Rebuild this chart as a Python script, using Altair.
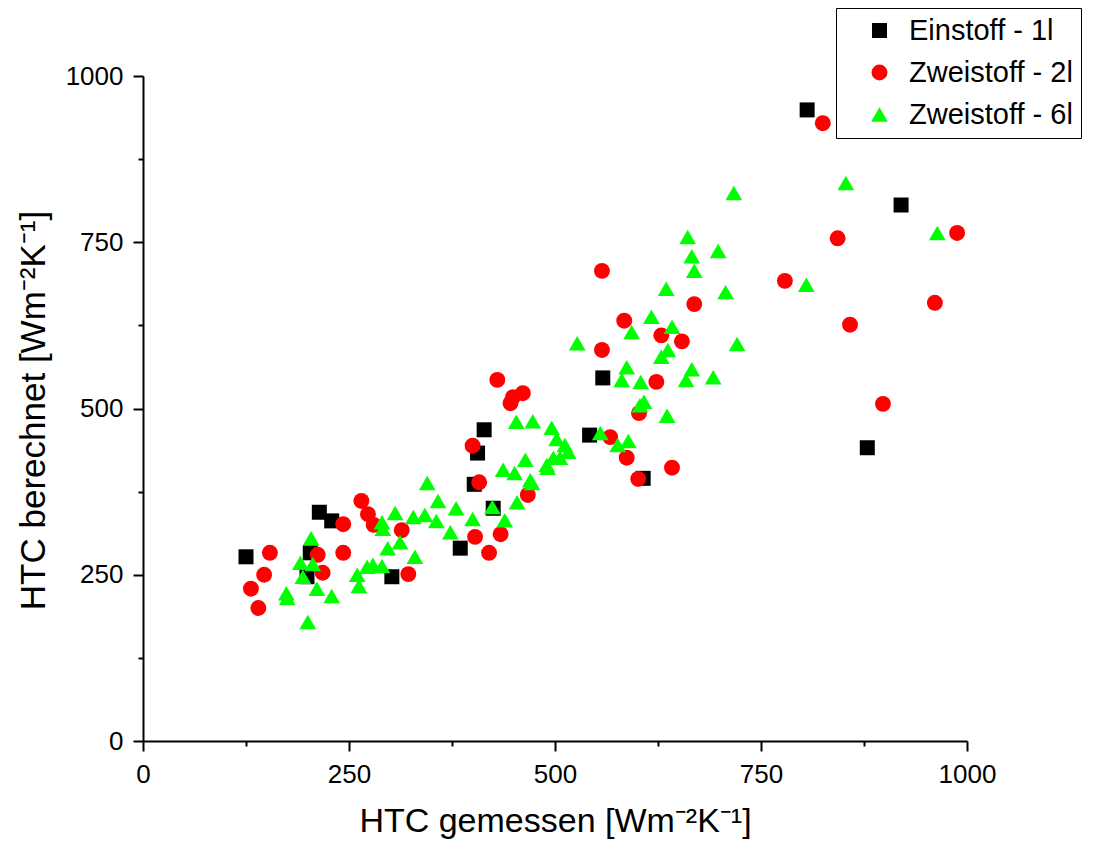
import altair as alt
import pandas as pd

series = ["Einstoff - 1l", "Zweistoff - 2l", "Zweistoff - 6l"]

# Einstoff - 1l (black squares)
sq_x = [125, 214, 229, 203, 199, 302, 385, 414, 406, 402, 425, 558, 542, 607, 806, 920, 879]
sq_y = [277, 344, 331, 283, 247, 247, 290, 468, 433, 386, 350, 546, 460, 395, 949, 806, 441]

# Zweistoff - 2l (red circles)
ci_x = [154, 147, 131, 140, 212, 218, 243, 243, 265, 273, 280, 314, 322, 403, 430, 449, 461, 446,
        400, 408, 467, 434, 420, 557, 669, 584, 629, 654, 557, 623, 602, 567, 587, 642, 601,
        825, 843, 988, 779, 961, 858, 898]
ci_y = [283, 250, 229, 200, 280, 253, 326, 283, 361, 341, 325, 317, 251, 307, 543, 517, 523, 508,
        444, 389, 370, 311, 283, 707, 657, 632, 610, 601, 588, 540, 493, 457, 426, 411, 394,
        929, 756, 764, 692, 659, 626, 507]

# Zweistoff - 6l (green triangles)
tr_x = [345, 358, 380, 306, 328, 342, 356, 290, 291, 400, 373, 204, 312, 297, 330, 191, 206, 194,
        260, 272, 279, 290, 262, 211, 229, 174, 175, 200,
        453, 473, 496, 502, 512, 516, 498, 490, 464, 437, 451, 470, 454, 439, 424, 506, 491, 472,
        661, 666, 698, 669, 635, 707, 617, 642, 593, 527, 721, 637, 629, 587, 666, 581, 604, 659,
        692, 608, 603, 636, 555, 576, 589,
        853, 964, 805, 717]
tr_y = [388, 361, 350, 343, 337, 340, 331, 329, 319, 334, 314, 305, 299, 290, 277, 268, 266, 247,
        250, 262, 265, 263, 233, 229, 218, 222, 215, 179,
        480, 481, 471, 454, 445, 435, 426, 415, 423, 408, 403, 392, 359, 332, 352, 426, 411, 388,
        758, 729, 737, 707, 680, 675, 638, 623, 615, 598, 597, 588, 578, 562, 559, 543, 540, 543,
        547, 510, 505, 489, 463, 445, 451,
        839, 764, 686, 824]

rows = []
for xs, ys, s in [(sq_x, sq_y, series[0]), (ci_x, ci_y, series[1]), (tr_x, tr_y, series[2])]:
    for a, b in zip(xs, ys):
        rows.append({"gemessen": a, "berechnet": b, "Serie": s, "order": series.index(s)})
df = pd.DataFrame(rows)

tick_vals = [0, 125, 250, 375, 500, 625, 750, 875, 1000]
label_expr = "datum.value % 250 == 0 ? format(datum.value, 'd') : ''"
tick_size = {"condition": {"test": "datum.value % 250 != 0", "value": 5}, "value": 10}

font = "Liberation Sans"

x_axis = alt.Axis(values=tick_vals, labelExpr=label_expr, tickSize=tick_size,
                  title="HTC gemessen [Wm⁻²K⁻¹]", titleY=90, titleBaseline="alphabetic",
                  titleFontSize=34,
                  labelPadding=10, labelFlush=False, labelOverlap=False)
y_axis = alt.Axis(values=tick_vals, labelExpr=label_expr, tickSize=tick_size,
                  title="HTC berechnet [Wm⁻²K⁻¹]", titleX=-99, titleY=334,
                  titleBaseline="alphabetic", titleAngle=-90, titleFontSize=35,
                  labelPadding=10, labelFlush=False, labelOverlap=False)

chart = alt.Chart(df).mark_point(filled=True, opacity=1, strokeWidth=0).encode(
    x=alt.X("gemessen:Q", scale=alt.Scale(domain=[0, 1000], nice=False, zero=False), axis=x_axis),
    y=alt.Y("berechnet:Q", scale=alt.Scale(domain=[0, 1000], nice=False, zero=False), axis=y_axis),
    color=alt.Color("Serie:N", scale=alt.Scale(domain=series, range=["#000000", "#ff0000", "#00ff00"]),
                    legend=alt.Legend(title=None)),
    shape=alt.Shape("Serie:N", scale=alt.Scale(domain=series, range=["square", "circle", "triangle-up"]),
                    legend=alt.Legend(title=None)),
    size=alt.Size("Serie:N", scale=alt.Scale(domain=series, range=[225, 280, 370]),
                  legend=alt.Legend(title=None)),
    order=alt.Order("order:Q"),
).properties(
    width=824, height=665,
    autosize=alt.AutoSizeParams(type="none"),
    padding={"left": 135, "top": 68, "right": 122, "bottom": 99},
).configure_view(stroke=None).configure_axis(
    domainColor="black", domainWidth=2, tickColor="black", tickWidth=2, grid=False,
    labelFont=font, labelFontSize=26, labelColor="black",
    titleFont=font, titleFontSize=34, titleFontWeight="normal", titleColor="black",
).configure_legend(
    orient="none", legendX=693, legendY=-68,
    strokeColor="black", strokeWidth=1, fillColor="white",
    padding=8, symbolOffset=21, labelOffset=15, rowPadding=12, labelLimit=0,
    labelFont=font, labelFontSize=29, labelColor="black",
    symbolStrokeWidth=0,
)

chart.save("out.html", embed_options={"renderer": "svg", "actions": False})
